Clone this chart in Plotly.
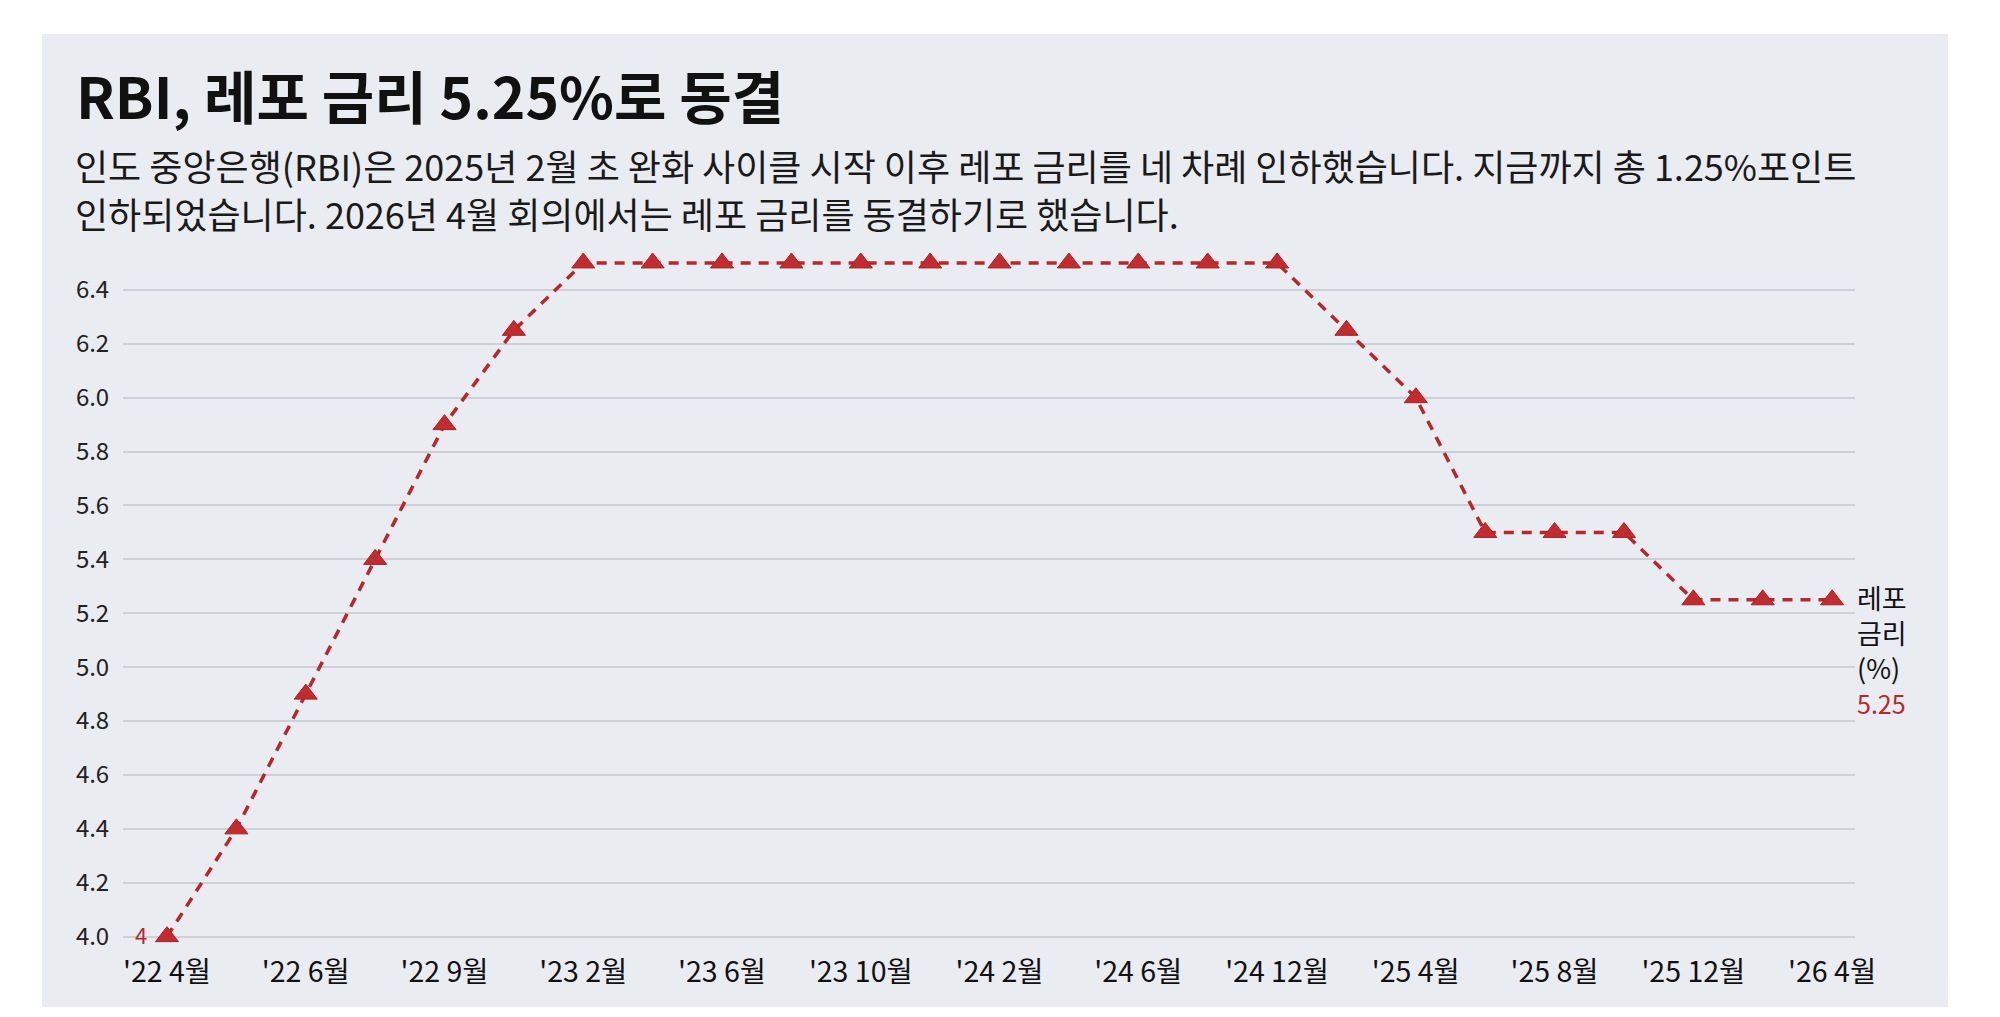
import plotly.graph_objects as go

# RBI repo rate decisions (%)
meetings = ["'22 4월", "'22 5월", "'22 6월", "'22 8월", "'22 9월", "'22 12월",
            "'23 2월", "'23 4월", "'23 6월", "'23 8월", "'23 10월", "'23 12월",
            "'24 2월", "'24 4월", "'24 6월", "'24 8월", "'24 12월",
            "'25 2월", "'25 4월", "'25 6월", "'25 8월", "'25 10월", "'25 12월",
            "'26 2월", "'26 4월"]
repo_rate = [4.0, 4.4, 4.9, 5.4, 5.9, 6.25,
             6.5, 6.5, 6.5, 6.5, 6.5, 6.5,
             6.5, 6.5, 6.5, 6.5, 6.5,
             6.25, 6.0, 5.5, 5.5, 5.5, 5.25,
             5.25, 5.25]
shown_ticks = meetings[::2]
y_ticks = [4.0, 4.2, 4.4, 4.6, 4.8, 5.0, 5.2, 5.4, 5.6, 5.8, 6.0, 6.2, 6.4]
subtitle = ["인도 중앙은행(RBI)은 2025년 2월 초 완화 사이클 시작 이후 레포 금리를 네 차례 인하했습니다. 지금까지 총 1.25%포인트",
            "인하되었습니다. 2026년 4월 회의에서는 레포 금리를 동결하기로 했습니다."]
end_label = ["레포", "금리", "(%)"]

RED = "#b8282b"
FONT = "Noto Sans CJK KR"

# the page body adds an 8px margin, so everything is laid out 8px up/left
OFF = 8
W, H = 2000, 1017
L, T = 123 - OFF, 236 - OFF
R, B = W - (1855 - OFF), H - (938 - OFF)
pw, ph = W - L - R, H - T - B


def px_x(p):
    return (p - OFF - L) / pw


def px_y(p):
    return (H - B - (p - OFF)) / ph


fig = go.Figure()

fig.add_trace(go.Scatter(
    x=meetings,
    y=repo_rate,
    mode="lines+markers",
    line=dict(color=RED, width=3.5, dash="10px,8px"),
    marker=dict(symbol="triangle-up", size=20, color="#c22c2e",
                line=dict(color="#a82226", width=1)),
    cliponaxis=False,
    showlegend=False,
    hovertemplate="%{x}: %{y}%<extra></extra>",
))

# panel background
fig.add_shape(type="rect", xref="paper", yref="paper",
              x0=px_x(42), x1=px_x(1948), y0=px_y(1007), y1=px_y(34),
              fillcolor="#e9ecf1", line=dict(width=0), layer="below")

fig.add_annotation(xref="paper", yref="paper", x=px_x(75), y=px_y(94),
                   xanchor="left", yanchor="middle", showarrow=False, borderpad=0,
                   text="<b>RBI, 레포 금리 5.25%로 동결</b>",
                   font=dict(family=FONT, size=57, color="#111111"))

for i, line in enumerate(subtitle):
    fig.add_annotation(xref="paper", yref="paper", x=px_x(74), y=px_y(165 + 48 * i),
                       xanchor="left", yanchor="middle", showarrow=False, borderpad=0,
                       text=line, font=dict(family=FONT, size=36, color="#1a1a1a"))

# end labels
fig.add_annotation(x=meetings[0], y=repo_rate[0], xshift=-26, yshift=3, showarrow=False,
                   borderpad=0, text="4", font=dict(family=FONT, size=22, color=RED))
fig.add_annotation(xref="paper", x=1.0, y=repo_rate[-1], yshift=-50,
                   xanchor="left", yanchor="middle", align="left", showarrow=False,
                   text="<br>".join(end_label)
                        + "<br><span style='color:" + RED + ";font-size:25px'>%.2f</span>" % repo_rate[-1],
                   font=dict(family=FONT, size=27, color="#111111"))

fig.update_layout(
    width=W, height=H,
    margin=dict(l=L, r=R, t=T, b=B),
    paper_bgcolor="white",
    plot_bgcolor="rgba(0,0,0,0)",
    font=dict(family=FONT, color="#222222"),
    xaxis=dict(
        type="category",
        range=[-0.634, 24.33],
        tickvals=shown_ticks,
        ticktext=shown_ticks,
        showgrid=False, zeroline=False, showline=False,
        ticks="outside", ticklen=9, tickcolor="rgba(0,0,0,0)",
        tickfont=dict(family=FONT, size=28.5, color="#111111"),
    ),
    yaxis=dict(
        range=[3.995, 6.6],
        tickvals=y_ticks,
        ticktext=["%.1f" % v for v in y_ticks],
        showgrid=True, gridcolor="#cdd0d6", gridwidth=2,
        zeroline=False, showline=False,
        ticks="outside", ticklen=8, tickcolor="rgba(0,0,0,0)",
        tickfont=dict(family=FONT, size=24, color="#222222"),
    ),
)

fig.write_html("out.html")
